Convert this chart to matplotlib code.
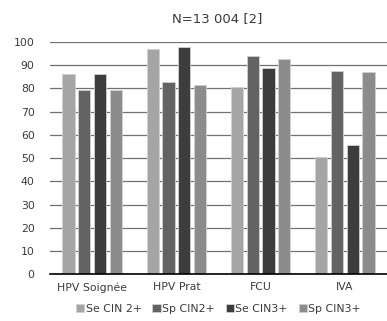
import numpy as np
import matplotlib
matplotlib.use('Agg')
from matplotlib import pyplot as plt

# valeurs
categories = ['HPV Soignée', 'HPV Prat', 'FCU', 'IVA']
series = ['Se CIN 2+', 'Sp CIN2+', 'Se CIN3+', 'Sp CIN3+']
se_cin2 = [86.2, 97.0, 80.6, 50.3]
sp_cin2 = [79.5, 82.8, 94.1, 87.5]
se_cin3 = [86.1, 97.9, 89.0, 55.8]
sp_cin3 = [79.5, 81.3, 92.7, 86.9]
colors = ['#a5a5a5', '#636363', '#3d3d3d', '#8c8c8c']

plt.rcParams['font.family'] = ['DejaVu Sans']

fig = plt.figure(figsize=(3.87, 3.21), dpi=100)
ax = fig.add_axes([0.129, 0.146, 0.871, 0.723])

x = np.arange(len(categories))
step = 0.187
width = 0.145
for i, vals in enumerate([se_cin2, sp_cin2, se_cin3, sp_cin3]):
    ax.bar(x + (i - 1.5) * step, vals, width, color=colors[i],
           edgecolor='#d0d0d0', linewidth=0.6, label=series[i], zorder=3)

ax.set_xlim(-0.5, 3.5)
ax.set_ylim(0, 100)
ax.set_yticks(range(0, 101, 10))
ax.set_xticks(x)
ax.set_xticklabels(categories)
for s in ['top', 'right', 'left']:
    ax.spines[s].set_visible(False)
ax.spines['bottom'].set_color('#000000')
ax.spines['bottom'].set_linewidth(1.2)
ax.spines['bottom'].set_zorder(4)
ax.tick_params(axis='both', length=0, labelsize=7.8, colors='#3a3a3a')
ax.tick_params(axis='x', pad=6)
ax.tick_params(axis='y', pad=11)
ax.set_axisbelow(True)
ax.yaxis.grid(True, color='#707070', linewidth=0.9)

fig.text(0.56, 0.942, 'N=13 004 [2]', ha='center', va='center',
         fontsize=9.5, color='#3a3a3a')

leg = ax.legend(loc='upper center', bbox_to_anchor=(0.5, -0.085), ncol=4,
                frameon=False, fontsize=7.8, handlelength=0.75, handleheight=0.75,
                handletextpad=0.15, columnspacing=1.0)
for t in leg.get_texts():
    t.set_color('#3a3a3a')

plt.savefig('out.png', dpi=100)
